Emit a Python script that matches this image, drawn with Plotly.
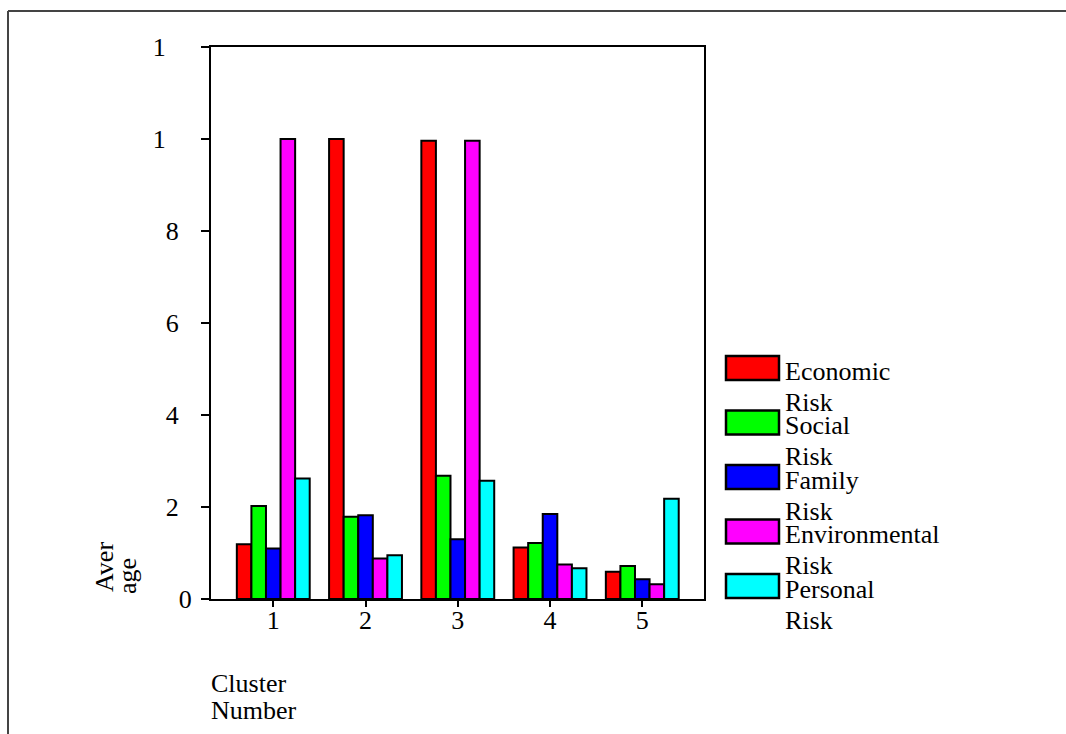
import plotly.graph_objects as go

# ---- data ----
clusters = [1, 2, 3, 4, 5]
series_names = ["Economic Risk", "Social Risk", "Family Risk", "Environmental Risk", "Personal Risk"]
economic = [1.19, 10.0, 9.96, 1.12, 0.59]
social = [2.02, 1.79, 2.68, 1.22, 0.72]
family = [1.10, 1.82, 1.30, 1.85, 0.43]
environmental = [10.0, 0.88, 9.96, 0.75, 0.32]
personal = [2.62, 0.95, 2.57, 0.67, 2.18]
y_tickvals = [0, 2, 4, 6, 8, 10, 12]
y_ticktext = ["0", "2\u2007", "4\u2007", "6\u2007", "8\u2007", "1\u2007\u2007", "1\u2007\u2007"]
legend_lines = [("Economic", "Risk"), ("Social", "Risk"), ("Family", "Risk"),
                ("Environmental", "Risk"), ("Personal", "Risk")]

colors = ["#FF0000", "#00FF00", "#0000FF", "#FF00FF", "#00FFFF"]
values = [economic, social, family, environmental, personal]

W, H = 1066, 734
X0, X1, Y0, Y1 = 211, 704, 47, 599  # plot area in pixels
FONT = "Liberation Serif, Times New Roman, serif"
FS = 26


def px(x):
    return (x - X0) / (X1 - X0)


def py(y):
    return (Y1 - y) / (Y1 - Y0)


fig = go.Figure()
for name, vals, col in zip(series_names, values, colors):
    fig.add_trace(go.Bar(x=clusters, y=vals, name=name, marker=dict(color=col, line=dict(color="black", width=2)),
                         showlegend=False))

annotations = []
shapes = []


def text_at(t, x, baseline, xanchor="left", angle=0):
    annotations.append(dict(text=t, x=px(x), y=py(baseline - 0.3375 * FS), xref="paper", yref="paper",
                            xanchor=xanchor, yanchor="middle", showarrow=False, textangle=angle,
                            font=dict(family=FONT, size=FS, color="black")))


# legend
box_tops = [356, 410.5, 465, 519.5, 574]
for i, (col, (l1, l2)) in enumerate(zip(colors, legend_lines)):
    t = box_tops[i]
    shapes.append(dict(type="rect", xref="paper", yref="paper", x0=px(726), x1=px(779), y0=py(t), y1=py(t + 24),
                       fillcolor=col, line=dict(color="black", width=2.5)))
    text_at(l1, 783, t + 24)
    text_at(l2, 783, t + 55)

# axis titles
text_at("Cluster", 209, 692)
text_at("Number", 209, 719)
annotations.append(dict(text="Aver", x=px(104), y=py(540), xref="paper", yref="paper", xanchor="center",
                        yanchor="top", textangle=-90, showarrow=False, font=dict(family=FONT, size=FS, color="black")))
annotations.append(dict(text="age", x=px(127), y=py(556), xref="paper", yref="paper", xanchor="center",
                        yanchor="top", textangle=-90, showarrow=False, font=dict(family=FONT, size=FS, color="black")))

# outer border
shapes.append(dict(type="line", xref="paper", yref="paper", x0=px(8), x1=px(1066), y0=py(11), y1=py(11),
                   line=dict(color="#444444", width=2)))
shapes.append(dict(type="line", xref="paper", yref="paper", x0=px(8), x1=px(8), y0=py(11), y1=py(734),
                   line=dict(color="#444444", width=2)))

fig.update_layout(
    width=W, height=H,
    margin=dict(l=X0, r=W - X1, t=Y0, b=H - Y1, pad=0),
    paper_bgcolor="white", plot_bgcolor="white",
    barmode="group", bargap=0.21, bargroupgap=0.0,
    font=dict(family=FONT, size=FS, color="black"),
    annotations=annotations, shapes=shapes,
    xaxis=dict(range=[0.325, 5.669], tickvals=clusters, ticktext=[str(c) for c in clusters],
               showgrid=False, zeroline=False, showline=True, linecolor="black", linewidth=2, mirror=True,
               ticks="outside", ticklen=6, tickwidth=2, tickcolor="black", ticklabelstandoff=-9),
    yaxis=dict(range=[0, 12], tickvals=y_tickvals, ticktext=y_ticktext,
               showgrid=False, zeroline=False, showline=True, linecolor="black", linewidth=2, mirror=True,
               ticks="outside", ticklen=8, tickwidth=2, tickcolor="black", ticklabelstandoff=4),
)

fig.write_html("out.html", config={"displayModeBar": False},
               post_script="document.body.style.margin='0px';")
